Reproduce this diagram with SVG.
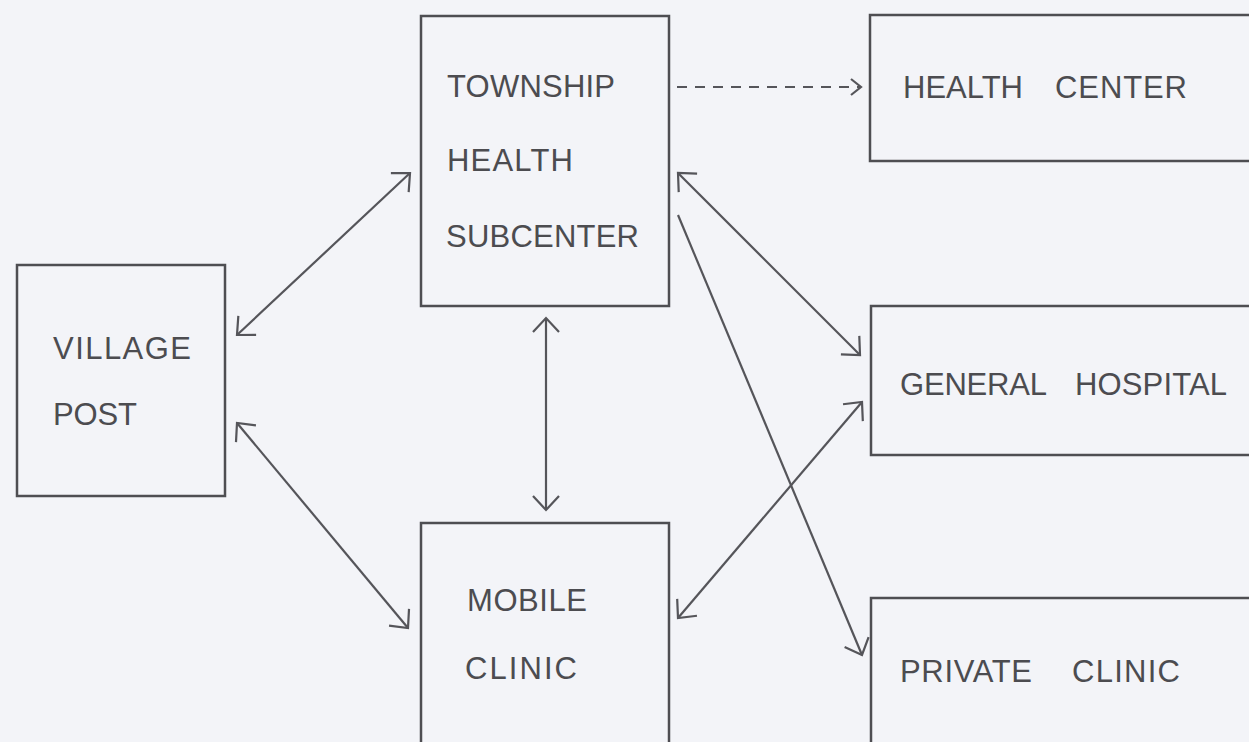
<svg xmlns="http://www.w3.org/2000/svg" width="1249" height="742" viewBox="0 0 1249 742">
<style>
.box{fill:none;stroke:#4e4e52;stroke-width:2.5}
.lbl{font-family:"Liberation Sans",Arial,Helvetica,sans-serif;font-size:31px;fill:#4c4c50}
.con{fill:none;stroke:#55555a;stroke-width:2.2}
</style>
<defs>
<marker id="ah" markerUnits="userSpaceOnUse" markerWidth="30" markerHeight="30" viewBox="-16 -15 18 30" refX="0" refY="0" orient="auto-start-reverse">
<path d="M-14,-13 L0,0 L-14,13" fill="none" stroke="#55555a" stroke-width="2.2"/>
</marker>
<marker id="ahs" markerUnits="userSpaceOnUse" markerWidth="20" markerHeight="20" viewBox="-12 -10 14 20" refX="0" refY="0" orient="auto">
<path d="M-10,-8 L0,0 L-10,8" fill="none" stroke="#55555a" stroke-width="2.2"/>
</marker>
</defs>
<rect width="1249" height="742" fill="#f3f4f8"/>
<g id="connectors">
<line class="con" x1="237" y1="335" x2="410" y2="173" marker-start="url(#ah)" marker-end="url(#ah)"/>
<line class="con" x1="237" y1="423" x2="408" y2="628" marker-start="url(#ah)" marker-end="url(#ah)"/>
<line class="con" x1="546" y1="318" x2="546" y2="510" marker-start="url(#ah)" marker-end="url(#ah)"/>
<line class="con" x1="678" y1="173" x2="860" y2="355" marker-start="url(#ah)" marker-end="url(#ah)"/>
<line class="con" x1="678" y1="618" x2="862" y2="402" marker-start="url(#ah)" marker-end="url(#ah)"/>
<line class="con" x1="678" y1="215" x2="862" y2="655" marker-end="url(#ah)"/>
<line class="con" x1="677" y1="87" x2="861" y2="87" stroke-dasharray="10 8" marker-end="url(#ahs)"/>
</g>
<g id="township">
<rect class="box" x="421" y="16" width="248" height="290"/>
<text class="lbl" x="447" y="97" textLength="168" lengthAdjust="spacing">TOWNSHIP</text>
<text class="lbl" x="447" y="171" textLength="126" lengthAdjust="spacing">HEALTH</text>
<text class="lbl" x="446" y="247" textLength="193" lengthAdjust="spacing">SUBCENTER</text>
</g>
<g id="healthcenter">
<rect class="box" x="870" y="15" width="400" height="146"/>
<text class="lbl" x="903" y="98" font-size="29" textLength="120" lengthAdjust="spacing">HEALTH</text>
<text class="lbl" x="1055" y="98" font-size="29" textLength="132" lengthAdjust="spacing">CENTER</text>
</g>
<g id="village">
<rect class="box" x="17" y="265" width="208" height="231"/>
<text class="lbl" x="53" y="359" textLength="138" lengthAdjust="spacing">VILLAGE</text>
<text class="lbl" x="53" y="425" textLength="84" lengthAdjust="spacing">POST</text>
</g>
<g id="generalhospital">
<rect class="box" x="871" y="306" width="400" height="149"/>
<text class="lbl" x="900" y="395" textLength="147" lengthAdjust="spacing">GENERAL</text>
<text class="lbl" x="1075" y="395" textLength="152" lengthAdjust="spacing">HOSPITAL</text>
</g>
<g id="mobile">
<rect class="box" x="421" y="523" width="248" height="240"/>
<text class="lbl" x="467" y="611" textLength="120" lengthAdjust="spacing">MOBILE</text>
<text class="lbl" x="465" y="679" textLength="112" lengthAdjust="spacing">CLINIC</text>
</g>
<g id="privateclinic">
<rect class="box" x="871" y="598" width="400" height="170"/>
<text class="lbl" x="900" y="682" textLength="132" lengthAdjust="spacing">PRIVATE</text>
<text class="lbl" x="1072" y="682" textLength="108" lengthAdjust="spacing">CLINIC</text>
</g>
</svg>
